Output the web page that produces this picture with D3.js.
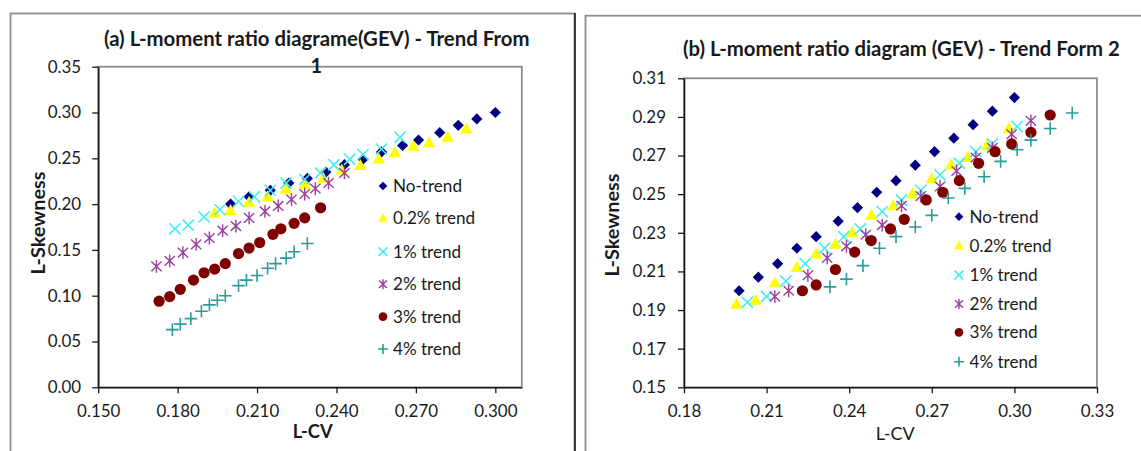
<!DOCTYPE html>
<html>
<head>
<meta charset="utf-8">
<script src="https://cdn.jsdelivr.net/npm/d3@7"></script>
<style>
  body { margin: 0; background: #fff; }
  svg { display: block; }
  text { font-family: Lato, "Open Sans", sans-serif; fill: #1a1a1a; }
</style>
</head>
<body>
<svg id="chart" width="1141" height="451"></svg>
<script>
// ---- series labels and tick values ----
const seriesLabels = ["No-trend", "0.2% trend", "1% trend", "2% trend", "3% trend", "4% trend"];
const xTicksA = [0.150, 0.180, 0.210, 0.240, 0.270, 0.300];
const yTicksA = [0.00, 0.05, 0.10, 0.15, 0.20, 0.25, 0.30, 0.35];
const xTicksB = [0.18, 0.21, 0.24, 0.27, 0.30, 0.33];
const yTicksB = [0.15, 0.17, 0.19, 0.21, 0.23, 0.25, 0.27, 0.29, 0.31];

// ---- (a) Trend Form 1: L-CV / L-Skewness per series ----
const aNoTrendCV = [0.200, 0.207, 0.215, 0.222, 0.229, 0.236, 0.243, 0.250, 0.257, 0.265, 0.271, 0.279, 0.286, 0.293, 0.300];
const aNoTrendSk = [0.200, 0.208, 0.215, 0.223, 0.228, 0.235, 0.243, 0.249, 0.257, 0.264, 0.270, 0.278, 0.286, 0.293, 0.300];
const aT02CV = [0.194, 0.200, 0.207, 0.214, 0.221, 0.228, 0.235, 0.242, 0.249, 0.256, 0.262, 0.269, 0.275, 0.282, 0.289];
const aT02Sk = [0.190, 0.193, 0.202, 0.208, 0.216, 0.221, 0.228, 0.237, 0.242, 0.249, 0.256, 0.263, 0.267, 0.273, 0.282];
const aT1CV = [0.179, 0.184, 0.190, 0.196, 0.203, 0.209, 0.215, 0.221, 0.228, 0.234, 0.239, 0.245, 0.250, 0.257, 0.264];
const aT1Sk = [0.173, 0.177, 0.186, 0.194, 0.203, 0.208, 0.215, 0.223, 0.227, 0.234, 0.243, 0.249, 0.254, 0.260, 0.273];
const aT2CV = [0.172, 0.177, 0.182, 0.187, 0.192, 0.197, 0.202, 0.207, 0.213, 0.218, 0.223, 0.228, 0.232, 0.237, 0.243];
const aT2Sk = [0.132, 0.138, 0.147, 0.156, 0.163, 0.171, 0.176, 0.185, 0.192, 0.198, 0.205, 0.211, 0.217, 0.223, 0.234];
const aT3CV = [0.173, 0.177, 0.181, 0.186, 0.190, 0.194, 0.198, 0.203, 0.207, 0.211, 0.216, 0.219, 0.224, 0.228, 0.234];
const aT3Sk = [0.094, 0.099, 0.107, 0.117, 0.125, 0.129, 0.135, 0.146, 0.152, 0.158, 0.167, 0.173, 0.179, 0.185, 0.196];
const aT4CV = [0.178, 0.181, 0.185, 0.189, 0.192, 0.195, 0.198, 0.203, 0.206, 0.210, 0.214, 0.217, 0.221, 0.224, 0.229];
const aT4Sk = [0.063, 0.069, 0.075, 0.083, 0.090, 0.095, 0.100, 0.111, 0.117, 0.122, 0.130, 0.135, 0.141, 0.148, 0.157];

// ---- (b) Trend Form 2 ----
const bNoTrendCV = [0.200, 0.207, 0.214, 0.221, 0.228, 0.236, 0.243, 0.250, 0.257, 0.264, 0.271, 0.278, 0.285, 0.292, 0.300];
const bNoTrendSk = [0.200, 0.207, 0.214, 0.222, 0.228, 0.236, 0.243, 0.251, 0.257, 0.265, 0.272, 0.279, 0.286, 0.293, 0.300];
const bT02CV = [0.199, 0.206, 0.213, 0.221, 0.228, 0.235, 0.241, 0.248, 0.256, 0.263, 0.270, 0.277, 0.283, 0.290, 0.298];
const bT02Sk = [0.193, 0.195, 0.204, 0.212, 0.219, 0.224, 0.230, 0.239, 0.244, 0.250, 0.258, 0.265, 0.269, 0.275, 0.284];
const bT1CV = [0.203, 0.210, 0.217, 0.224, 0.231, 0.238, 0.244, 0.252, 0.259, 0.266, 0.273, 0.280, 0.286, 0.292, 0.301];
const bT1Sk = [0.194, 0.197, 0.205, 0.214, 0.222, 0.228, 0.232, 0.241, 0.247, 0.252, 0.260, 0.266, 0.272, 0.276, 0.285];
const bT2CV = [0.213, 0.218, 0.225, 0.232, 0.239, 0.246, 0.252, 0.259, 0.266, 0.273, 0.279, 0.286, 0.292, 0.299, 0.306];
const bT2Sk = [0.197, 0.200, 0.208, 0.217, 0.223, 0.229, 0.234, 0.244, 0.249, 0.254, 0.262, 0.269, 0.274, 0.281, 0.288];
const bT3CV = [0.223, 0.228, 0.235, 0.242, 0.248, 0.255, 0.260, 0.268, 0.274, 0.280, 0.287, 0.293, 0.299, 0.306, 0.313];
const bT3Sk = [0.200, 0.203, 0.211, 0.220, 0.226, 0.232, 0.237, 0.247, 0.251, 0.257, 0.266, 0.272, 0.276, 0.282, 0.291];
const bT4CV = [0.233, 0.239, 0.245, 0.251, 0.257, 0.264, 0.270, 0.276, 0.282, 0.289, 0.295, 0.301, 0.306, 0.313, 0.321];
const bT4Sk = [0.202, 0.206, 0.213, 0.222, 0.228, 0.233, 0.239, 0.248, 0.253, 0.259, 0.267, 0.273, 0.278, 0.284, 0.292];

// ---- marker styles, one per series ----
const markerStyles = [
  { shape: "diamond",  color: "#000080" },
  { shape: "triangle", color: "#ffff00" },
  { shape: "cross",    color: "#40f0f4" },
  { shape: "star",     color: "#9b3f9f" },
  { shape: "circle",   color: "#800000" },
  { shape: "plus",     color: "#2e9a9a" }
];

const svg = d3.select("#chart");

// Font size that makes a sample string span a given width.
function sizeFor(sample, width, weight) {
  const t = svg.append("text").attr("font-size", 20).attr("font-weight", weight || "normal").text(sample);
  const len = t.node().getComputedTextLength();
  t.remove();
  return len > 0 ? 20 * width / len : 17;
}
const tickFont = sizeFor("0.35", 33.5);
const legendFont = sizeFor("No-trend", 69);

function drawMarker(g, shape, color, s) {
  const r = 5.6 * s;
  if (shape === "diamond") {
    g.append("path").attr("d", `M0,${-r}L${r},0L0,${r}L${-r},0Z`).attr("fill", color);
  } else if (shape === "triangle") {
    const w = 12.5 * s, h = 11 * s;
    g.append("path").attr("d", `M0,${-h * 0.6}L${w / 2},${h * 0.4}L${-w / 2},${h * 0.4}Z`).attr("fill", color);
  } else if (shape === "cross") {
    g.append("path").attr("d", `M${-r},${-r}L${r},${r}M${-r},${r}L${r},${-r}`)
      .attr("stroke", color).attr("stroke-width", 1.6).attr("fill", "none");
  } else if (shape === "star") {
    const q = 6.4 * s;
    g.append("path").attr("d", `M${-q * 0.8},${-q * 0.75}L${q * 0.8},${q * 0.75}M${-q * 0.8},${q * 0.75}L${q * 0.8},${-q * 0.75}M0,${-q}L0,${q}`)
      .attr("stroke", color).attr("stroke-width", 1.4).attr("fill", "none");
  } else if (shape === "circle") {
    g.append("circle").attr("r", r).attr("fill", color);
  } else if (shape === "plus") {
    const p = 6.3 * s;
    g.append("path").attr("d", `M${-p},0L${p},0M0,${-p}L0,${p}`)
      .attr("stroke", color).attr("stroke-width", 1.6).attr("fill", "none");
  }
}

// Shrink or grow a text node's font size until it spans the wanted width.
function fitText(t, width) {
  const node = t.node();
  const fs = parseFloat(t.attr("font-size"));
  const len = node.getComputedTextLength();
  if (len > 0) t.attr("font-size", (fs * width / len).toFixed(2));
  return t;
}

function drawPanel(cfg) {
  const x = d3.scaleLinear().domain(cfg.xDomain).range([cfg.left, cfg.right]);
  const y = d3.scaleLinear().domain(cfg.yDomain).range([cfg.bottom, cfg.top]);
  const g = svg.append("g");

  // plot-area frame (grey) under the black axes
  g.append("rect")
    .attr("x", cfg.left).attr("y", cfg.top)
    .attr("width", cfg.right - cfg.left).attr("height", cfg.bottom - cfg.top)
    .attr("fill", "none").attr("stroke", "#8c8c8c").attr("stroke-width", 1.8);

  const yAxis = d3.axisLeft(y).tickValues(cfg.yTicks).tickFormat(d3.format(".2f"))
    .tickSize(6).tickSizeOuter(0).tickPadding(cfg.yPad);
  const xAxis = d3.axisBottom(x).tickValues(cfg.xTicks).tickFormat(d3.format(cfg.xFmt))
    .tickSize(6).tickSizeOuter(0).tickPadding(12);

  const ya = g.append("g").attr("transform", `translate(${cfg.left},0)`).call(yAxis);
  const xa = g.append("g").attr("transform", `translate(0,${cfg.bottom})`).call(xAxis);
  [ya, xa].forEach(a => {
    a.select(".domain").attr("stroke", "#1a1a1a").attr("stroke-width", 1.6);
    a.selectAll(".tick line").attr("stroke", "#1a1a1a").attr("stroke-width", 1.3);
    a.selectAll(".tick text").attr("font-size", tickFont.toFixed(2))
      .attr("font-family", "Lato, sans-serif").attr("fill", "#1a1a1a");
  });

  // data points, series drawn in legend order
  cfg.series.forEach((s, i) => {
    const st = markerStyles[i];
    s.cv.forEach((v, k) => {
      const m = g.append("g").attr("transform", `translate(${x(v)},${y(s.sk[k])})`);
      drawMarker(m, st.shape, st.color, 1);
    });
  });

  // legend
  seriesLabels.forEach((lab, i) => {
    const yy = cfg.legendY[i];
    const m = g.append("g").attr("transform", `translate(${cfg.legendMarkX},${yy})`);
    drawMarker(m, markerStyles[i].shape, markerStyles[i].color, 0.78);
    g.append("text").attr("x", cfg.legendTextX).attr("y", yy)
      .attr("dy", "0.36em").attr("font-size", legendFont.toFixed(2)).text(lab);
  });

  // axis titles
  const yt = g.append("text")
    .attr("transform", `translate(${cfg.yTitle[0]},${cfg.yTitle[1]}) rotate(-90)`)
    .attr("text-anchor", "middle").attr("dy", "0.36em")
    .attr("font-weight", "bold").attr("font-size", 18).text("L-Skewness");
  fitText(yt, 103);
  const xt = g.append("text")
    .attr("x", cfg.xTitle[0]).attr("y", cfg.xTitle[1])
    .attr("text-anchor", "middle").attr("dy", "0.36em")
    .attr("font-weight", cfg.xTitleBold ? "bold" : "normal").attr("font-size", 18).text("L-CV");
  fitText(xt, cfg.xTitleW);

  // chart title
  cfg.title.forEach(line => {
    const t = g.append("text").attr("x", line.x).attr("y", line.y)
      .attr("text-anchor", "middle").attr("font-weight", "bold")
      .attr("font-size", line.fs || 18).text(line.text);
    if (line.w) fitText(t, line.w);
  });
}

// chart borders
svg.append("rect").attr("x", 10.5).attr("y", 13.5).attr("width", 564).attr("height", 460)
  .attr("fill", "none").attr("stroke", "#8c8c8c").attr("stroke-width", 1.8);
svg.append("line").attr("x1", 575).attr("x2", 575).attr("y1", 13).attr("y2", 451)
  .attr("stroke", "#1e1e1e").attr("stroke-width", 1.6);
svg.append("rect").attr("x", 585.5).attr("y", 15.7).attr("width", 600).attr("height", 460)
  .attr("fill", "none").attr("stroke", "#8c8c8c").attr("stroke-width", 1.8);

drawPanel({
  xDomain: [0.15, 0.31], yDomain: [0, 0.35],
  left: 98.2, right: 521.8, top: 66.7, bottom: 387.3,
  xTicks: xTicksA, yTicks: yTicksA, xFmt: ".3f", yPad: 11,
  series: [
    { cv: aNoTrendCV, sk: aNoTrendSk }, { cv: aT02CV, sk: aT02Sk }, { cv: aT1CV, sk: aT1Sk },
    { cv: aT2CV, sk: aT2Sk }, { cv: aT3CV, sk: aT3Sk }, { cv: aT4CV, sk: aT4Sk }
  ],
  legendMarkX: 383, legendTextX: 393,
  legendY: [186, 218.3, 251.7, 284.3, 316.7, 349],
  yTitle: [38, 223], xTitle: [312.7, 431], xTitleBold: true, xTitleW: 40,
  title: [
    { text: "(a) L-moment ratio diagrame(GEV) - Trend From", x: 316.7, y: 46, w: 426 },
    { text: "1", x: 316.4, y: 73, fs: 20 }
  ]
});

drawPanel({
  xDomain: [0.18, 0.33], yDomain: [0.15, 0.31],
  left: 684, right: 1097, top: 78.3, bottom: 387.3,
  xTicks: xTicksB, yTicks: yTicksB, xFmt: ".2f", yPad: 12,
  series: [
    { cv: bNoTrendCV, sk: bNoTrendSk }, { cv: bT02CV, sk: bT02Sk }, { cv: bT1CV, sk: bT1Sk },
    { cv: bT2CV, sk: bT2Sk }, { cv: bT3CV, sk: bT3Sk }, { cv: bT4CV, sk: bT4Sk }
  ],
  legendMarkX: 959, legendTextX: 969.5,
  legendY: [216.7, 245.7, 275, 304, 332.3, 361.7],
  yTitle: [612, 225], xTitle: [895.2, 433], xTitleBold: false, xTitleW: 39,
  title: [
    { text: "(b) L-moment ratio diagram (GEV) - Trend Form 2", x: 901.4, y: 55.5, w: 437 }
  ]
});
</script>
</body>
</html>
